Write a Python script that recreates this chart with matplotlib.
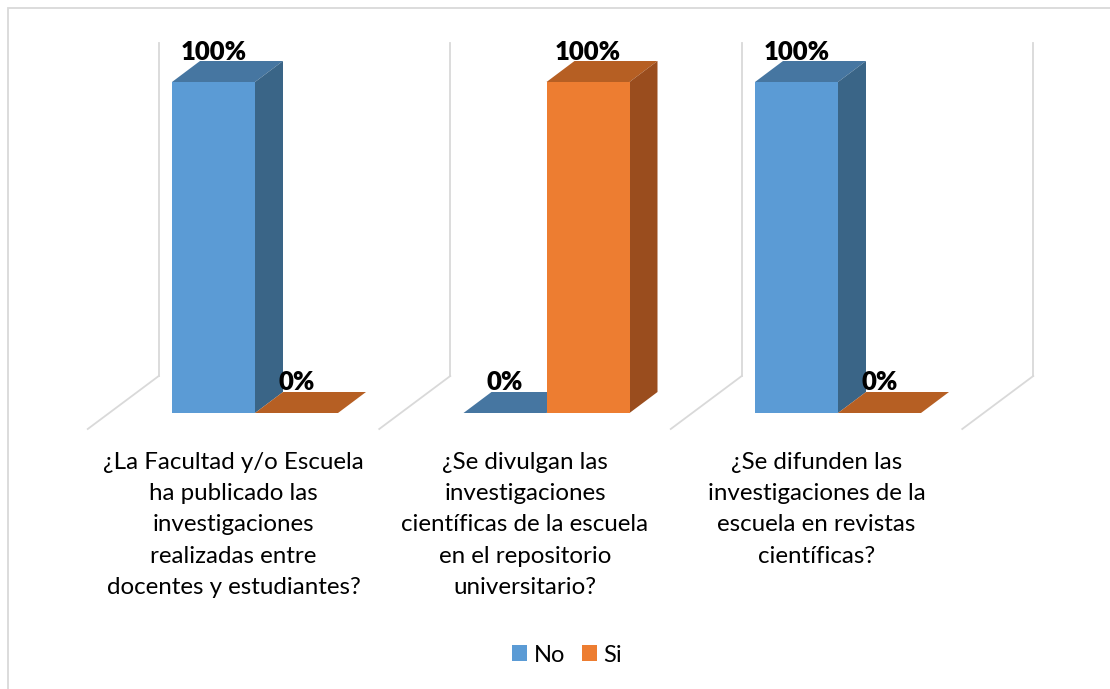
import matplotlib
matplotlib.use("Agg")
import matplotlib.pyplot as plt
from matplotlib.patches import Polygon, Patch, Rectangle
from matplotlib.lines import Line2D

# ---------------- data ----------------
categories = [
    "¿La Facultad y/o Escuela\nha publicado las\ninvestigaciones\nrealizadas entre\ndocentes y estudiantes?",
    "¿Se divulgan las\ninvestigaciones\ncientíficas de la escuela\nen el repositorio\nuniversitario?",
    "¿Se difunden las\ninvestigaciones de la\nescuela en revistas\ncientíficas?",
]
series_names = ["No", "Si"]
no_values = [100, 0, 100]
si_values = [0, 100, 0]

# ---------------- style ----------------
FONT = "Lato"
plt.rcParams["font.family"] = [FONT, "DejaVu Sans"]
front_cols = ["#5B9BD5", "#ED7D31"]
top_cols = ["#4676A1", "#B65F23"]
side_cols = ["#3A6587", "#9A4D1E"]
grid_col = "#D9D9D9"

W, H = 1110, 689
fig = plt.figure(figsize=(W / 100, H / 100), dpi=100)
ax_left, ax_bottom, ax_w, ax_h = 109.25, 276.0, 874.5, 331.0
ax = fig.add_axes([ax_left / W, ax_bottom / H, ax_w / W, ax_h / H])
ax.set_xlim(-0.5, 2.5)
ax.set_ylim(0, 100)
ax.axis("off")

# data units per pixel
ux = 3.0 / ax_w
uy = 100.0 / ax_h

def off(dxp, dyp):
    return dxp * ux, dyp * uy

bar_dx, bar_dy = off(28, 21)        # bar depth
back_dx, back_dy = off(49.5, 37)     # back wall offset
flo_dx, flo_dy = off(-21.5, -16)     # floor front edge offset
w = 83.0 / 291.5

# outer frame (only top / left visible)
fig.add_artist(Rectangle((8 / W, -0.1), 1.2, 1 - 8 / H + 0.1, transform=fig.transFigure,
                         fill=False, edgecolor=grid_col, lw=1.3))

# walls / floor lines
n = len(categories)
for k in range(n + 1):
    b = k - 0.5
    ax.add_line(Line2D([b + back_dx, b + back_dx], [back_dy, 100 + back_dy + 2 * uy],
                       color=grid_col, lw=1.3, clip_on=False, zorder=1))
    ax.add_line(Line2D([b + back_dx, b + flo_dx], [back_dy, flo_dy],
                       color=grid_col, lw=1.3, clip_on=False, zorder=1))

# bars
z = 2
for i in range(n):
    for j, vals in enumerate([no_values, si_values]):
        v = vals[i]
        x0 = i - w + j * w
        x1 = x0 + w
        top = Polygon([(x0, v), (x1, v), (x1 + bar_dx, v + bar_dy), (x0 + bar_dx, v + bar_dy)],
                      closed=True, facecolor=top_cols[j], edgecolor="none", clip_on=False, zorder=z)
        ax.add_patch(top)
        if v > 0:
            side = Polygon([(x1, 0), (x1, v), (x1 + bar_dx, v + bar_dy), (x1 + bar_dx, bar_dy)],
                           closed=True, facecolor=side_cols[j], edgecolor="none", clip_on=False, zorder=z)
            ax.add_patch(side)
        ax.bar([x0], [v], width=w, align="edge", color=front_cols[j], lw=0, zorder=z + 0.5,
               clip_on=False)
        ax.text((x0 + x1) / 2, v + bar_dy + 1.5 * uy, f"{v:.0f}%", ha="center", va="baseline",
                fontsize=18.5, fontweight="heavy", color="black", zorder=10)
        z += 1

# category labels
for i, lab in enumerate(categories):
    ax.text(i + flo_dx, -(452 - 413) * uy, lab, ha="center", va="top", fontsize=17.4,
            color="black", linespacing=1.6, clip_on=False)

# legend
handles = [Patch(facecolor=front_cols[0], edgecolor="none"),
           Patch(facecolor=front_cols[1], edgecolor="none")]
fig.legend(handles, series_names, loc="center", bbox_to_anchor=(567 / W, 34 / H), ncol=2,
           frameon=False, fontsize=17, handlelength=0.63, handleheight=0.63,
           handletextpad=0.28, columnspacing=0.7)

fig.savefig("out.png", dpi=100, facecolor="white")
